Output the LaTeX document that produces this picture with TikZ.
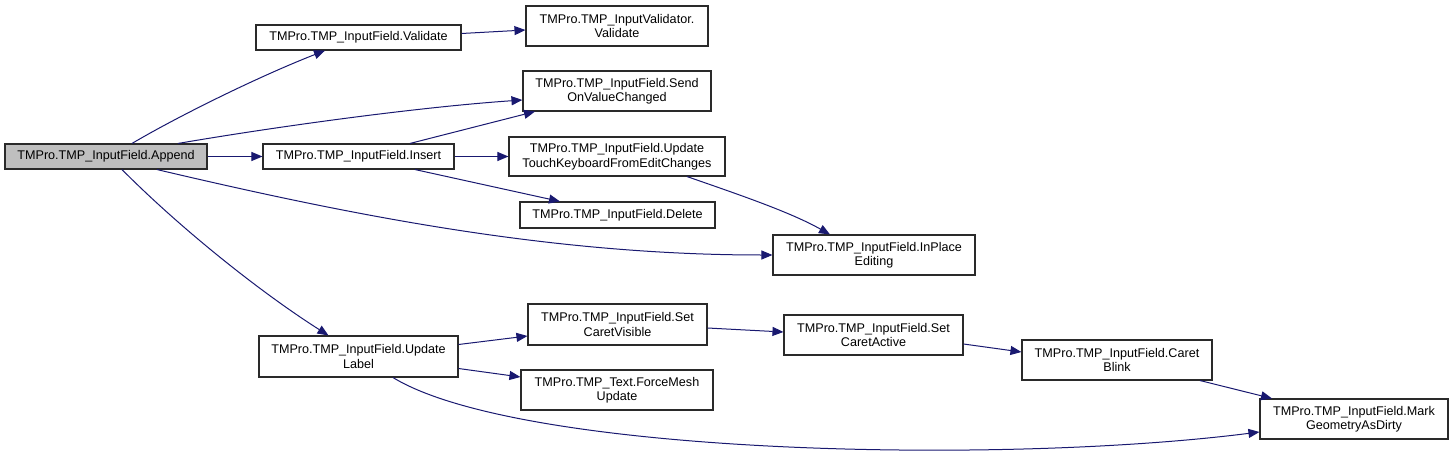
\documentclass[tikz,border=0pt]{standalone}
\usepackage{fontspec}
\setmainfont{Liberation Sans}
\usetikzlibrary{arrows.meta}
\definecolor{edgeblue}{HTML}{191970}
\definecolor{boxline}{HTML}{2A2A2A}
\definecolor{startfill}{HTML}{BFBFBF}
\tikzset{
  fn/.style={draw=boxline, line width=1.1pt, fill=white, inner sep=0pt, align=center,
    font=\fontsize{12.6}{14.5}\selectfont},
  edge/.style={draw=edgeblue, line width=1pt, -{Triangle[length=11pt,width=9pt]}},
}
\begin{document}
\begin{tikzpicture}[x=1pt,y=-1pt]
\useasboundingbox (0,0) rectangle (1452,463);
\node[fn, fill=startfill, minimum width=202pt, minimum height=25pt] (append) at (106,156.5) {TMPro.TMP\_InputField.Append};
\node[fn, minimum width=205pt, minimum height=25pt] (validate) at (358.5,37.5) {TMPro.TMP\_InputField.Validate};
\node[fn, minimum width=191pt, minimum height=25pt] (insert) at (358.5,156.5) {TMPro.TMP\_InputField.Insert};
\node[fn, minimum width=182pt, minimum height=40pt] (inputvalidator) at (617,26) {TMPro.TMP\_InputValidator.\\Validate};
\node[fn, minimum width=188pt, minimum height=40pt] (send) at (617,91) {TMPro.TMP\_InputField.Send\\OnValueChanged};
\node[fn, minimum width=216pt, minimum height=39pt] (updatetouch) at (617,156.5) {TMPro.TMP\_InputField.Update\\TouchKeyboardFromEditChanges};
\node[fn, minimum width=195pt, minimum height=26pt] (delete) at (617.5,215) {TMPro.TMP\_InputField.Delete};
\node[fn, minimum width=202pt, minimum height=40pt] (inplace) at (874,255) {TMPro.TMP\_InputField.InPlace\\Editing};
\node[fn, minimum width=199pt, minimum height=41pt] (updatelabel) at (358.5,356.5) {TMPro.TMP\_InputField.Update\\Label};
\node[fn, minimum width=179pt, minimum height=41pt] (setcaretvisible) at (617.5,324.5) {TMPro.TMP\_InputField.Set\\CaretVisible};
\node[fn, minimum width=192pt, minimum height=40pt] (forcemesh) at (617,390) {TMPro.TMP\_Text.ForceMesh\\Update};
\node[fn, minimum width=179pt, minimum height=40pt] (setcaretactive) at (873.5,335) {TMPro.TMP\_InputField.Set\\CaretActive};
\node[fn, minimum width=190pt, minimum height=40pt] (caretblink) at (1117,360) {TMPro.TMP\_InputField.Caret\\Blink};
\node[fn, minimum width=188pt, minimum height=40pt] (markgeometry) at (1354,419) {TMPro.TMP\_InputField.Mark\\GeometryAsDirty};

\draw[edge] ([xshift=26pt]append.north) .. controls (175,118) and (255,78) .. ([xshift=-33.5pt]validate.south);
\draw[edge] ([xshift=72pt]append.north) .. controls (280,126) and (420,107) .. ([yshift=-9pt]send.west);
\draw[edge] (append.east) -- (insert.west);
\draw[edge] ([xshift=51pt]append.south) .. controls (350,215) and (550,255) .. (inplace.west);
\draw[edge] ([xshift=16pt]append.south) .. controls (180,228) and (260,292) .. ([xshift=-30pt]updatelabel.north);
\draw[edge] ([yshift=4pt]validate.east) -- ([yshift=-4pt]inputvalidator.west);
\draw[edge] ([xshift=51.5pt]insert.north) -- ([xshift=-82pt]send.south);
\draw[edge] (insert.east) -- (updatetouch.west);
\draw[edge] ([xshift=56.5pt]insert.south) -- ([xshift=-57.5pt]delete.north);
\draw[edge] ([xshift=70pt]updatetouch.south) .. controls (740,195) and (790,212) .. ([xshift=-44pt]inplace.north);
\draw[edge] ([yshift=12pt]updatelabel.east) -- ([yshift=-11.5pt]setcaretvisible.west);
\draw[edge] ([yshift=-12pt]updatelabel.east) -- ([yshift=13pt]forcemesh.west);
\draw[edge] ([xshift=34.5pt]updatelabel.south) .. controls (520,455) and (1000,465) .. ([yshift=-13pt]markgeometry.west);
\draw[edge] ([yshift=-3.5pt]setcaretvisible.east) -- ([yshift=3pt]setcaretactive.west);
\draw[edge] ([yshift=-9pt]setcaretactive.east) -- ([yshift=8pt]caretblink.west);
\draw[edge] ([xshift=83pt]caretblink.south) -- ([xshift=-82pt]markgeometry.north);
\end{tikzpicture}
\end{document}
